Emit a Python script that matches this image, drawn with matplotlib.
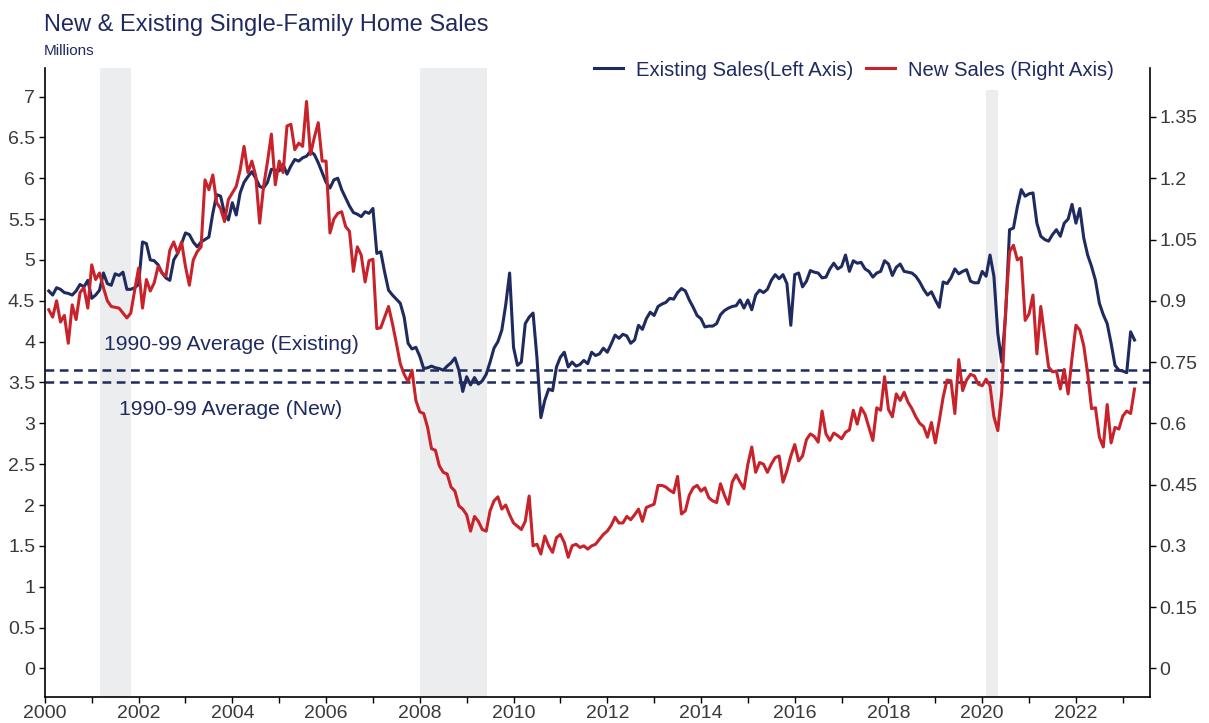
import numpy as np
import matplotlib
matplotlib.use("Agg")
from matplotlib import pyplot as plt
from matplotlib.ticker import MultipleLocator, FuncFormatter

plt.rcParams["font.family"] = ["Liberation Sans", "DejaVu Sans"]

NAVY = "#1f2a5e"
RED = "#c8232b"
SHADE = "#ebedef"
TICK_COL = "#3a3a3a"

# monthly, Jan 2000 - Mar 2023, millions (SAAR)
existing_sales = [
    4.62, 4.57, 4.66, 4.64, 4.60, 4.59, 4.57, 4.62, 4.70, 4.67, 4.75, 4.53,  # 2000
    4.57, 4.63, 4.84, 4.71, 4.69, 4.83, 4.81, 4.85, 4.64, 4.64, 4.66, 4.70,  # 2001
    5.22, 5.20, 5.00, 4.99, 4.94, 4.84, 4.78, 4.75, 5.00, 5.08, 5.20, 5.33,  # 2002
    5.31, 5.22, 5.16, 5.22, 5.25, 5.28, 5.57, 5.80, 5.78, 5.57, 5.49, 5.70,  # 2003
    5.55, 5.82, 5.95, 6.02, 6.08, 6.00, 5.90, 5.88, 5.95, 6.11, 6.10, 6.09,  # 2004
    6.17, 6.05, 6.15, 6.23, 6.21, 6.25, 6.27, 6.33, 6.29, 6.19, 6.07, 5.95,  # 2005
    5.88, 5.98, 6.00, 5.86, 5.76, 5.66, 5.58, 5.56, 5.53, 5.59, 5.57, 5.63,  # 2006
    5.08, 5.10, 4.85, 4.63, 4.57, 4.52, 4.47, 4.30, 3.98, 3.91, 3.93, 3.82,  # 2007
    3.67, 3.68, 3.70, 3.68, 3.67, 3.65, 3.70, 3.74, 3.80, 3.65, 3.39, 3.57,  # 2008
    3.47, 3.56, 3.48, 3.52, 3.60, 3.75, 3.92, 4.00, 4.14, 4.45, 4.84, 3.93,  # 2009
    3.71, 3.75, 4.22, 4.30, 4.35, 3.80, 3.07, 3.28, 3.42, 3.40, 3.69, 3.81,  # 2010
    3.87, 3.69, 3.75, 3.70, 3.72, 3.77, 3.73, 3.87, 3.83, 3.85, 3.92, 3.87,  # 2011
    3.97, 4.08, 4.04, 4.09, 4.07, 3.98, 4.02, 4.20, 4.15, 4.28, 4.36, 4.32,  # 2012
    4.43, 4.46, 4.48, 4.53, 4.52, 4.60, 4.65, 4.62, 4.51, 4.42, 4.32, 4.28,  # 2013
    4.18, 4.19, 4.19, 4.22, 4.33, 4.38, 4.41, 4.43, 4.44, 4.51, 4.41, 4.51,  # 2014
    4.39, 4.57, 4.63, 4.60, 4.64, 4.75, 4.82, 4.77, 4.82, 4.71, 4.20, 4.82,  # 2015
    4.84, 4.67, 4.74, 4.87, 4.85, 4.84, 4.78, 4.79, 4.89, 4.96, 4.89, 4.92,  # 2016
    5.06, 4.86, 4.99, 4.96, 4.97, 4.89, 4.86, 4.79, 4.84, 4.86, 4.99, 4.95,  # 2017
    4.81, 4.91, 4.95, 4.86, 4.85, 4.84, 4.80, 4.73, 4.64, 4.57, 4.61, 4.51,  # 2018
    4.42, 4.73, 4.71, 4.78, 4.89, 4.83, 4.86, 4.88, 4.74, 4.72, 4.72, 4.86,  # 2019
    4.80, 5.06, 4.80, 4.10, 3.75, 4.33, 5.37, 5.39, 5.65, 5.86, 5.78, 5.81,  # 2020
    5.82, 5.45, 5.29, 5.25, 5.23, 5.31, 5.37, 5.29, 5.45, 5.50, 5.68, 5.45,  # 2021
    5.63, 5.27, 5.06, 4.92, 4.75, 4.47, 4.33, 4.22, 3.98, 3.71, 3.65, 3.64,  # 2022
    3.62, 4.12, 4.02,                                                        # 2023
]

new_sales = [
    0.878, 0.860, 0.900, 0.848, 0.864, 0.796, 0.890, 0.854, 0.920, 0.932, 0.882, 0.988,  # 2000
    0.952, 0.968, 0.932, 0.900, 0.886, 0.884, 0.882, 0.870, 0.858, 0.870, 0.926, 0.980,  # 2001
    0.882, 0.952, 0.924, 0.944, 0.984, 0.968, 0.960, 1.024, 1.044, 1.016, 1.044, 0.984,  # 2002
    0.938, 1.000, 1.020, 1.032, 1.196, 1.172, 1.208, 1.140, 1.126, 1.094, 1.148, 1.164,  # 2003
    1.180, 1.220, 1.278, 1.214, 1.242, 1.206, 1.090, 1.180, 1.240, 1.308, 1.184, 1.242,  # 2004
    1.214, 1.328, 1.332, 1.270, 1.286, 1.278, 1.388, 1.258, 1.300, 1.336, 1.242, 1.242,  # 2005
    1.066, 1.100, 1.114, 1.118, 1.082, 1.070, 0.972, 1.032, 1.012, 0.946, 0.998, 1.002,  # 2006
    0.832, 0.834, 0.860, 0.886, 0.844, 0.796, 0.746, 0.720, 0.702, 0.730, 0.656, 0.628,  # 2007
    0.624, 0.590, 0.538, 0.534, 0.496, 0.480, 0.476, 0.444, 0.434, 0.398, 0.390, 0.376,  # 2008
    0.336, 0.372, 0.360, 0.340, 0.336, 0.386, 0.410, 0.420, 0.390, 0.400, 0.376, 0.356,  # 2009
    0.348, 0.340, 0.360, 0.422, 0.300, 0.304, 0.280, 0.324, 0.300, 0.284, 0.320, 0.328,  # 2010
    0.308, 0.272, 0.300, 0.304, 0.296, 0.300, 0.292, 0.300, 0.304, 0.316, 0.328, 0.336,  # 2011
    0.350, 0.370, 0.356, 0.356, 0.372, 0.364, 0.376, 0.390, 0.360, 0.394, 0.398, 0.402,  # 2012
    0.448, 0.448, 0.444, 0.436, 0.430, 0.470, 0.378, 0.386, 0.424, 0.442, 0.448, 0.434,  # 2013
    0.442, 0.418, 0.410, 0.406, 0.452, 0.424, 0.402, 0.456, 0.474, 0.456, 0.440, 0.500,  # 2014
    0.542, 0.480, 0.504, 0.500, 0.480, 0.500, 0.516, 0.520, 0.456, 0.484, 0.520, 0.548,  # 2015
    0.508, 0.520, 0.560, 0.574, 0.568, 0.554, 0.630, 0.574, 0.558, 0.576, 0.570, 0.562,  # 2016
    0.578, 0.584, 0.632, 0.598, 0.638, 0.622, 0.590, 0.558, 0.638, 0.632, 0.714, 0.634,  # 2017
    0.616, 0.672, 0.656, 0.676, 0.652, 0.636, 0.616, 0.600, 0.592, 0.566, 0.602, 0.552,  # 2018
    0.606, 0.664, 0.706, 0.704, 0.624, 0.756, 0.680, 0.706, 0.720, 0.716, 0.696, 0.692,  # 2019
    0.708, 0.692, 0.616, 0.582, 0.676, 0.878, 1.020, 1.036, 1.000, 1.006, 0.852, 0.868,  # 2020
    0.914, 0.770, 0.886, 0.812, 0.738, 0.726, 0.728, 0.684, 0.732, 0.672, 0.760, 0.840,  # 2021
    0.828, 0.790, 0.722, 0.636, 0.638, 0.566, 0.542, 0.646, 0.552, 0.590, 0.586, 0.618,  # 2022
    0.630, 0.624, 0.684,                                                                  # 2023
]

recessions = [(2001.17, 2001.84), (2008.0, 2009.43), (2020.08, 2020.34)]
existing_avg_90s = 3.65   # left axis
new_avg_90s = 0.70        # right axis

# month-end positions in decimal years
dates = 2000 + (np.arange(len(existing_sales)) + 1) / 12.0

fig = plt.figure(figsize=(12.09, 7.23), dpi=100, facecolor="white")
ax = fig.add_axes([0.0371, 0.036, 0.9137, 0.870])
ax2 = ax.twinx()

for start, end in recessions:
    ax.axvspan(start, end, color=SHADE, lw=0, zorder=0)

ax.axhline(existing_avg_90s, color=NAVY, lw=1.8, dashes=(3.5, 2.2), zorder=2)
ax2.axhline(new_avg_90s, color=NAVY, lw=1.8, dashes=(3.5, 2.2), zorder=2)

l1, = ax.plot(dates, existing_sales, color=NAVY, lw=2.2, zorder=3,
              label="Existing Sales(Left Axis)")
l2, = ax2.plot(dates, new_sales, color=RED, lw=2.2, zorder=3,
               label="New Sales (Right Axis)")

ax.text(2003.97, 3.97, "1990-99 Average (Existing)", color=NAVY, fontsize=15.2,
        ha="center", va="center")
ax.text(2003.97, 3.17, "1990-99 Average (New)", color=NAVY, fontsize=15.2,
        ha="center", va="center")

ax.set_xlim(2000, 2023.57)
ax.set_ylim(-0.35, 7.35)
ax2.set_ylim(-0.07, 1.47)

ax.xaxis.set_major_locator(MultipleLocator(1))
ax.xaxis.set_major_formatter(FuncFormatter(lambda v, p: f"{int(round(v))}" if int(round(v)) % 2 == 0 else ""))
ax.yaxis.set_major_locator(MultipleLocator(0.5))
ax.yaxis.set_major_formatter(FuncFormatter(lambda v, p: f"{v:g}"))
ax2.yaxis.set_major_locator(MultipleLocator(0.15))
ax2.yaxis.set_major_formatter(FuncFormatter(lambda v, p: f"{round(v, 2):g}"))

for a in (ax, ax2):
    a.spines["top"].set_visible(False)
    for s in a.spines.values():
        s.set_linewidth(1.2)
        s.set_color("black")
    a.tick_params(axis="both", labelsize=14, labelcolor=TICK_COL, length=4,
                  width=1.0, color="black", pad=3)
    a.set_facecolor("none")
ax.spines["right"].set_visible(False)
ax2.spines["left"].set_visible(False)
ax2.spines["bottom"].set_visible(False)
ax.tick_params(axis="x", pad=2)

fig.text(44 / 1209, 1 - 31 / 723, "New & Existing Single-Family Home Sales",
         color=NAVY, fontsize=17, va="baseline", ha="left")
fig.text(44 / 1209, 1 - 55 / 723, "Millions", color=NAVY, fontsize=11,
         va="baseline", ha="left")

leg = ax2.legend(handles=[l1, l2], loc="center",
                 bbox_to_anchor=(854 / 1209, 1 - 70 / 723),
                 bbox_transform=fig.transFigure, ncol=2, frameon=True,
                 facecolor="white", edgecolor="none", framealpha=1,
                 fontsize=14.6, handlelength=1.4, handletextpad=0.65,
                 columnspacing=0.65, borderpad=0.5)
for t in leg.get_texts():
    t.set_color(NAVY)
leg.set_zorder(10)

fig.savefig("out.png", dpi=100, facecolor="white")
